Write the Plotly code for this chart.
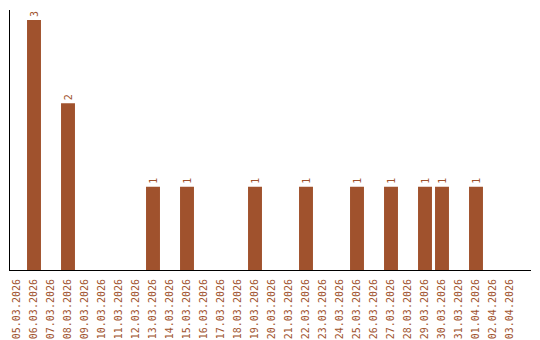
import plotly.graph_objects as go

dates = ["05.03.2026", "06.03.2026", "07.03.2026", "08.03.2026", "09.03.2026",
         "10.03.2026", "11.03.2026", "12.03.2026", "13.03.2026", "14.03.2026",
         "15.03.2026", "16.03.2026", "17.03.2026", "18.03.2026", "19.03.2026",
         "20.03.2026", "21.03.2026", "22.03.2026", "23.03.2026", "24.03.2026",
         "25.03.2026", "26.03.2026", "27.03.2026", "28.03.2026", "29.03.2026",
         "30.03.2026", "31.03.2026", "01.04.2026", "02.04.2026", "03.04.2026"]
counts = [0, 3, 0, 2, 0, 0, 0, 0, 1, 0, 1, 0, 0, 0, 1, 0, 0, 1, 0, 0,
          1, 0, 1, 0, 1, 1, 0, 1, 0, 0]

color = "#A0522D"
labels = [str(v) if v > 0 else "" for v in counts]

fig = go.Figure(go.Bar(
    x=dates, y=counts, marker_color=color, marker_line_width=0,
    text=labels, textposition="outside", textangle=-90,
    textfont=dict(family="DejaVu Sans Mono", size=10, color=color),
    cliponaxis=False, width=0.82,
))

fig.update_layout(
    width=540, height=340,
    margin=dict(l=10, r=9, t=10, b=70),
    plot_bgcolor="white", paper_bgcolor="white",
    showlegend=False,
    font=dict(family="DejaVu Sans Mono", size=10, color=color),
)
fig.update_xaxes(
    type="category", range=[-0.412, 30.235], automargin=False,
    showline=True, linecolor="black", linewidth=1,
    showgrid=False, ticks="", tickangle=-90,
    tickfont=dict(family="DejaVu Sans Mono", size=10, color=color),
    ticklabelstandoff=4,
)
fig.update_yaxes(
    range=[0, 3.12], showline=True, linecolor="black", linewidth=1,
    showgrid=False, showticklabels=False, ticks="", zeroline=False,
    automargin=False,
)

fig.write_html("out.html")
